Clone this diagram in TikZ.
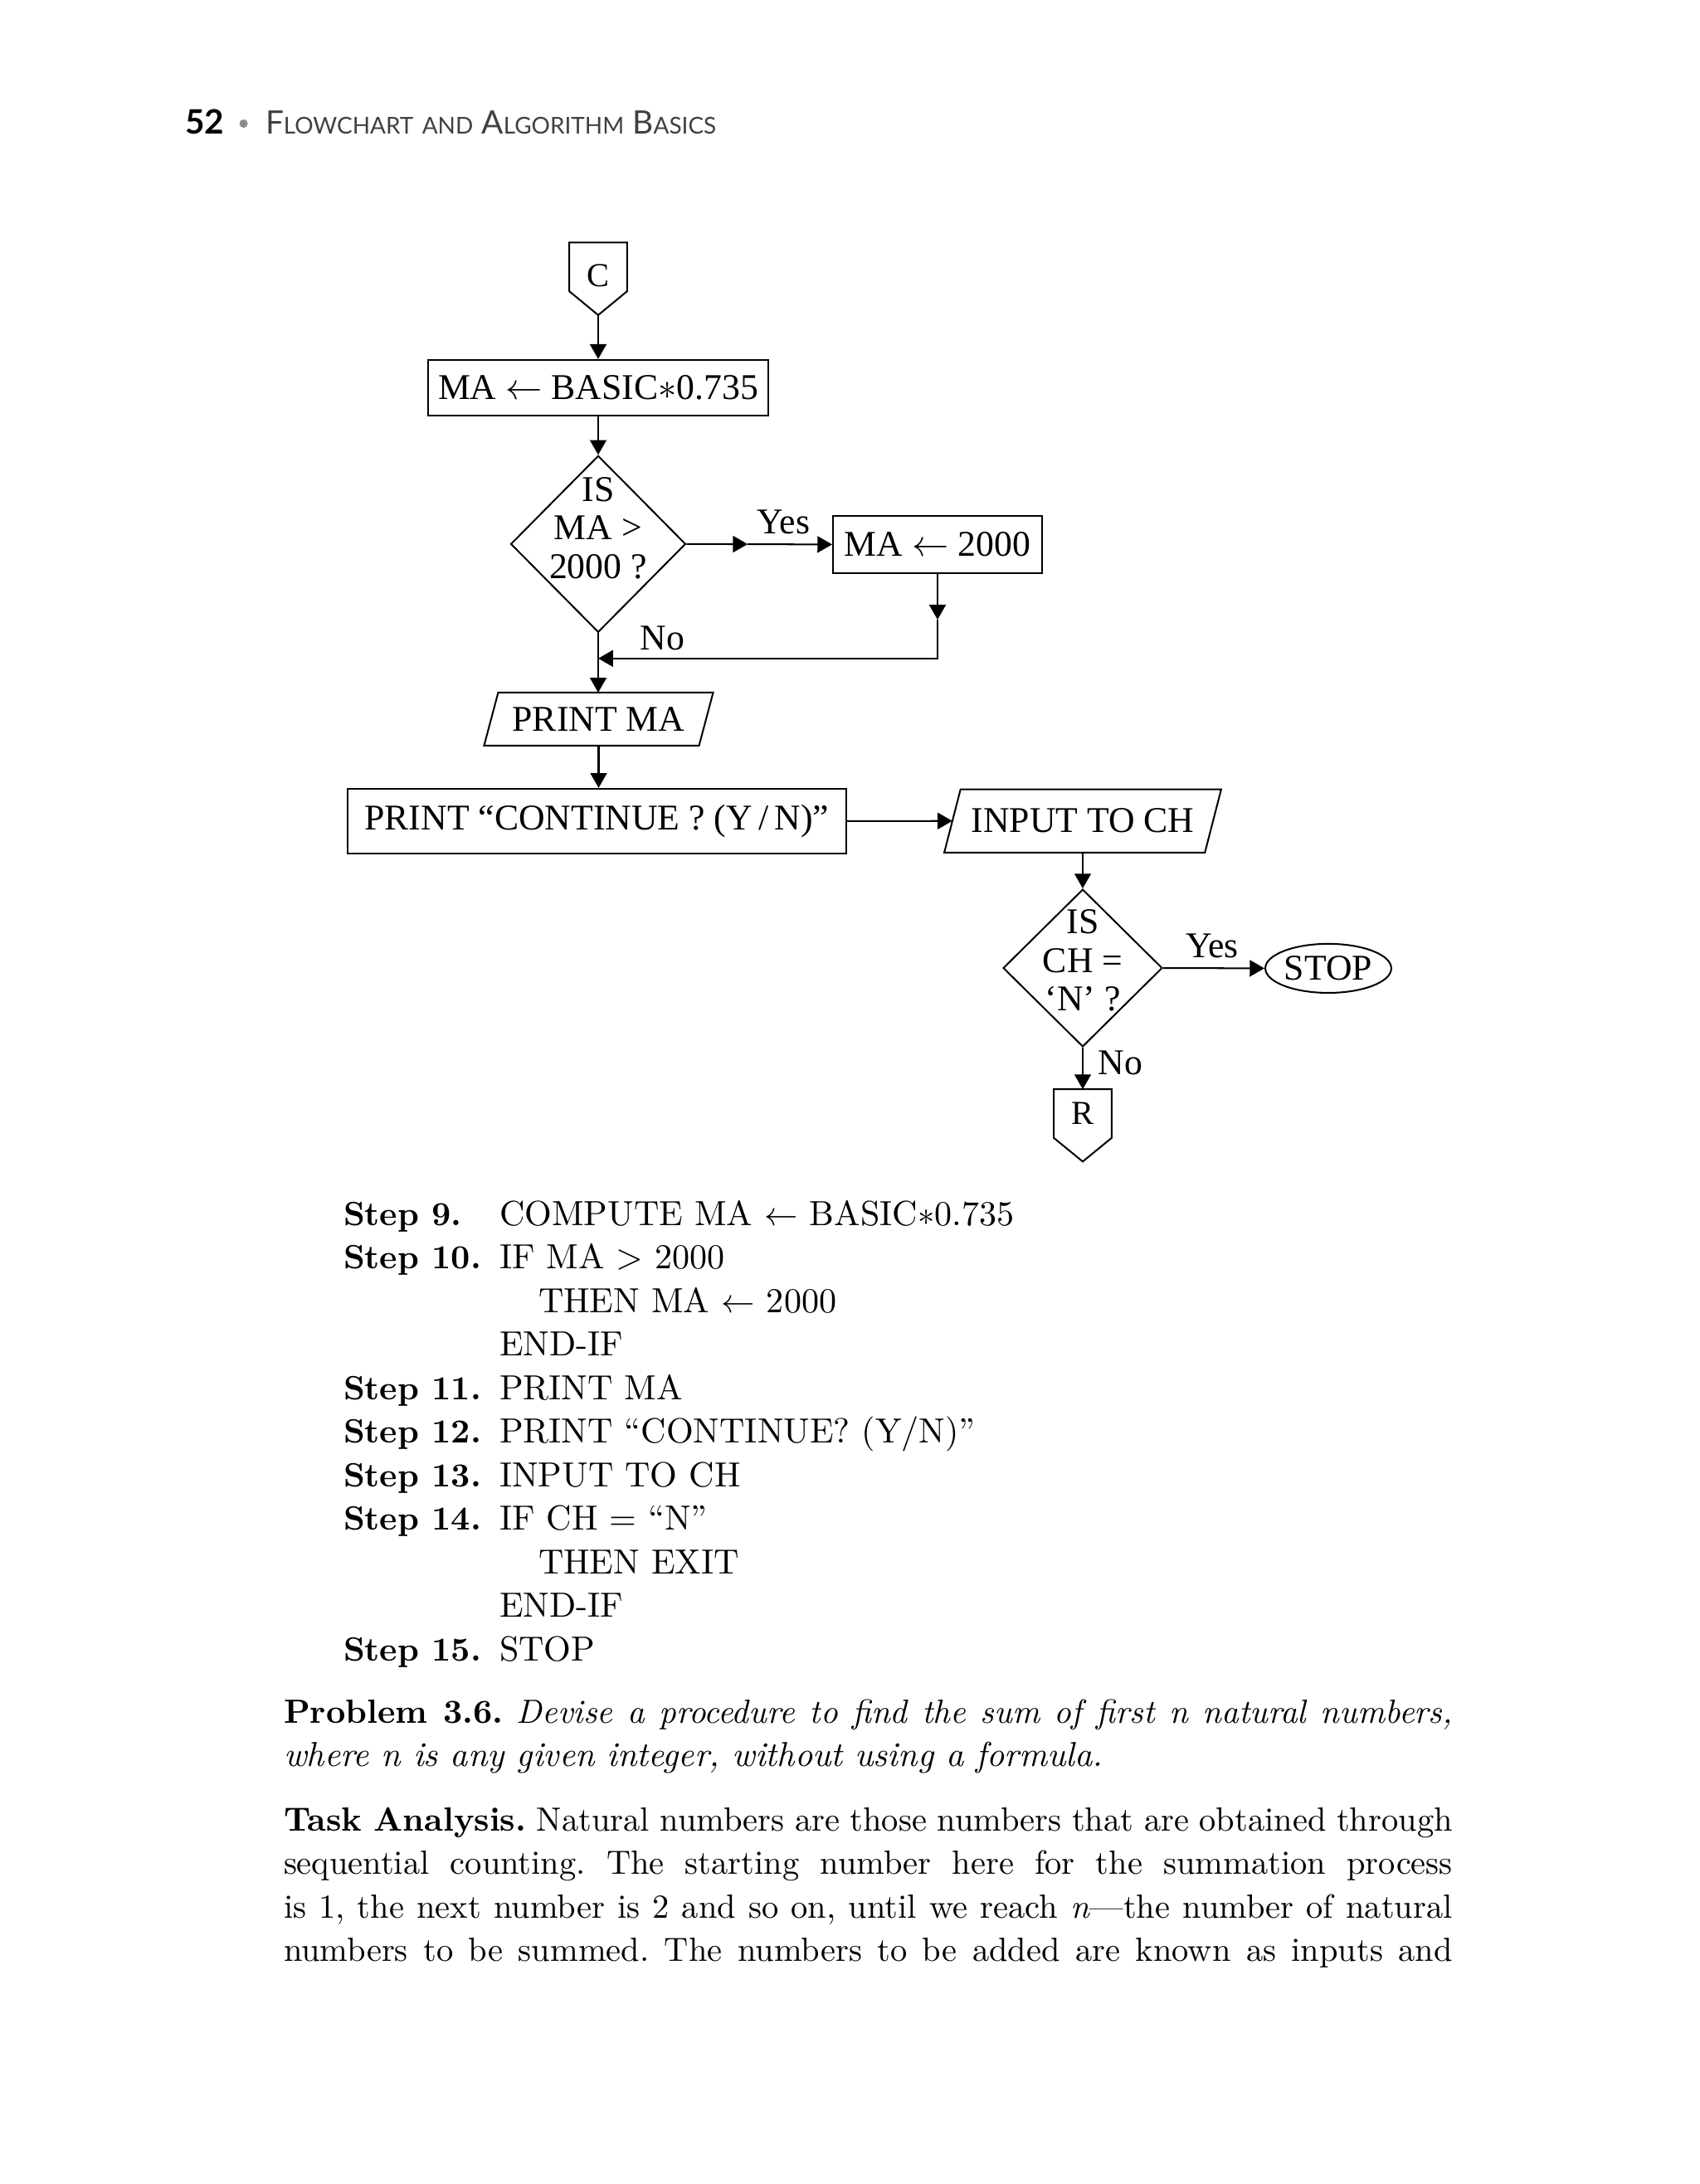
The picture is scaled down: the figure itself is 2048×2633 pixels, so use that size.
\documentclass[tikz,border=0pt]{standalone}
\usepackage{fontspec}
\setmainfont{Latin Modern Roman}
\newfontfamily\chartfont{Liberation Serif}
\newfontfamily\headfont{Lato}
\usetikzlibrary{shapes.geometric,arrows.meta,calc}
\definecolor{headgray}{gray}{0.25}
\definecolor{dotgray}{gray}{0.55}
\newcommand{\hsc}[2]{{\fontsize{9.6pt}{10pt}\selectfont #1}{\fontsize{6.9pt}{7pt}\selectfont #2}}
\newcommand{\chartsize}{\chartfont\fontsize{10.8pt}{11.5pt}\selectfont}
\newlength{\linew}
\setlength{\linew}{348pt}
\frenchspacing

\tikzset{
  box/.style={draw, rectangle, inner sep=0pt, font=\chartsize},
  io/.style={rectangle, inner sep=0pt, font=\chartsize},
  decision/.style={draw, diamond, inner sep=0pt},
  dtext/.style={align=center, inner sep=0pt, font=\chartsize},
  term/.style={draw, ellipse, inner sep=0pt, font=\chartsize},
  conn/.style={rectangle, inner sep=0pt, minimum width=16.7pt, minimum height=14pt, font=\chartfont\fontsize{10pt}{11pt}\selectfont},
  arr/.style={-{Triangle[length=4.4pt,width=4.9pt]}},
  lbl/.style={inner sep=0pt, anchor=base west, font=\chartsize},
  stepno/.style={inner sep=0pt, anchor=base west, font=\fontsize{10pt}{13pt}\selectfont\bfseries},
  steptxt/.style={inner sep=0pt, anchor=base west, font=\fontsize{10.4pt}{13pt}\selectfont},
  bodytxt/.style={inner sep=0pt, anchor=base west, font=\fontsize{10pt}{13pt}\selectfont},
}

\begin{document}
\begin{tikzpicture}[x=0.247016pt, y=-0.247016pt, line width=0.5pt]
  \useasboundingbox (0,0) rectangle (2048,2633);
  \fill[white] (0,0) rectangle (2048,2633);

  % running head
  \node[inner sep=0pt, anchor=base west, font=\headfont\bfseries\fontsize{10pt}{10pt}\selectfont] (pgnum) at (222.5,161) {52};
  \node[circle, fill=dotgray, inner sep=0pt, minimum size=2.5pt] (hdot) at (293.6,149) {};
  \node[inner sep=0pt, anchor=base west, text=headgray, font=\headfont] (runhead) at (319,161)
    {\hsc{F}{LOWCHART} \hsc{}{AND} \hsc{A}{LGORITHM} \hsc{B}{ASICS}};

  % flowchart
  \node[conn, text height=11.5pt, text depth=0pt] (c) at (721,321.8) {C};
  \coordinate (ctip) at ($(c.south)+(0,28.7)$);
  \draw (c.north west) -- (c.south west) -- (ctip) -- (c.south east) -- (c.north east) -- cycle;

  \node[box, minimum width=101.1pt, minimum height=16.6pt] (ma) at (721,467.4) {MA $\leftarrow$ BASIC$\ast$0.735};
  \node[decision, minimum width=52.1pt, minimum height=52.6pt] (d1) at (721,655.8) {};
  \node[dtext] (d1t) at ($(d1)+(0,-19)$) {IS\\MA >\\2000 ?};
  \node[box, minimum width=62.2pt, minimum height=17.1pt] (m2000) at (1130,656.4) {MA $\leftarrow$ 2000};
  \node[io, minimum width=63.5pt, minimum height=15.3pt] (pma) at (721.5,866.9) {PRINT MA};
  \draw ($(pma.north west)+(8.5,0)$) -- ($(pma.north east)+(8.5,0)$) -- ($(pma.south east)+(-8.5,0)$) -- ($(pma.south west)+(-8.5,0)$) -- cycle;
  \node[box, minimum width=148.5pt, minimum height=19.3pt] (pcont) at (719.4,989.9) {PRINT “CONTINUE ? (Y\,/\,N)”};
  \node[io, minimum width=77.1pt, minimum height=18.3pt] (inp) at (1305,989.7) {INPUT TO CH};
  \draw ($(inp.north west)+(9.8,0)$) -- ($(inp.north east)+(9.8,0)$) -- ($(inp.south east)+(-9.8,0)$) -- ($(inp.south west)+(-9.8,0)$) -- cycle;
  \node[decision, minimum width=47.4pt, minimum height=46.9pt] (d2) at (1305,1167) {};
  \node[dtext] (d2t) at ($(d2)+(0,-9)$) {IS\\CH =\\‘N’ ?};
  \node[term, minimum width=37.5pt, minimum height=14.6pt] (stop) at (1601,1167.4) {STOP};
  \node[conn] (r) at (1305,1342.5) {R};
  \coordinate (rtip) at ($(r.south)+(0,28.5)$);
  \draw (r.north west) -- (r.south west) -- (rtip) -- (r.south east) -- (r.north east) -- cycle;

  \coordinate (yesmid) at ($(d1.east)!0.42!(m2000.west)$);
  \coordinate (nomid) at ($(m2000.south)+(0,55)$);
  \coordinate (njoin) at ($(d1.south)+(0,30.5)$);

  \draw[arr] (ctip) -- (ma.north);
  \draw[arr] (ma.south) -- (d1.north);
  \draw[arr] (d1.east) -- (yesmid);
  \draw[arr] (yesmid) -- node[lbl, pos=0.1, yshift=3pt] {Yes} (m2000.west);
  \draw[arr] (m2000.south) -- (nomid);
  \draw[arr] (nomid) |- (njoin);
  \draw[arr] (d1.south) -- node[lbl, pos=0.277, xshift=12.3pt] {No} (d1.south |- pma.north);
  \draw[arr] (pma.south) -- (pma.south |- pcont.north);
  \draw[arr] (pcont.east) -- (inp.west);
  \draw[arr] (inp.south) -- (d2.north);
  \draw[arr] (d2.east) -- node[lbl, pos=0.214, yshift=3pt] {Yes} (stop.west);
  \draw[arr] (d2.south) -- node[lbl, pos=0.654, xshift=4.4pt] {No} (r.north);

  % algorithm steps
  \node[stepno] (s9) at (413,1477) {Step 9.};
  \node[steptxt] (s9t) at (601,1477) {COMPUTE MA $\leftarrow$ BASIC$\ast$0.735};
  \node[stepno] (s10) at (413,1529.5) {Step 10.};
  \node[steptxt] (s10t) at (601,1529.5) {IF MA > 2000};
  \node[steptxt] (s10a) at (648,1582) {THEN MA $\leftarrow$ 2000};
  \node[steptxt] (s10b) at (601,1634.5) {END-IF};
  \node[stepno] (s11) at (413,1687) {Step 11.};
  \node[steptxt] (s11t) at (601,1687) {PRINT MA};
  \node[stepno] (s12) at (413,1739.5) {Step 12.};
  \node[steptxt] (s12t) at (601,1739.5) {PRINT “CONTINUE? (Y/N)”};
  \node[stepno] (s13) at (413,1792) {Step 13.};
  \node[steptxt] (s13t) at (601,1792) {INPUT TO CH};
  \node[stepno] (s14) at (413,1844.5) {Step 14.};
  \node[steptxt] (s14t) at (601,1844.5) {IF CH = “N”};
  \node[steptxt] (s14a) at (648,1897) {THEN EXIT};
  \node[steptxt] (s14b) at (601,1949.5) {END-IF};
  \node[stepno] (s15) at (413,2002) {Step 15.};
  \node[steptxt] (s15t) at (601,2002) {STOP};

  % problem statement
  \node[bodytxt] (prob1) at (341,2077) {\makebox[\linew][s]{\textbf{Problem 3.6.} \textit{Devise a procedure to find the sum of first n natural numbers,}}};
  \node[bodytxt] (prob2) at (341,2129.5) {\fontsize{10.3pt}{13pt}\selectfont\textit{where n is any given integer, without using a formula.}};
  \node[bodytxt] (task1) at (341,2207) {\makebox[\linew][s]{\textbf{Task Analysis.} Natural numbers are those numbers that are obtained through}};
  \node[bodytxt] (task2) at (341,2259.5) {\makebox[\linew][s]{sequential counting. The starting number here for the summation process}};
  \node[bodytxt] (task3) at (341,2312) {\makebox[\linew][s]{is 1, the next number is 2 and so on, until we reach \textit{n}—the number of natural}};
  \node[bodytxt] (task4) at (341,2364.5) {\makebox[\linew][s]{numbers to be summed. The numbers to be added are known as inputs and}};
\end{tikzpicture}
\end{document}
